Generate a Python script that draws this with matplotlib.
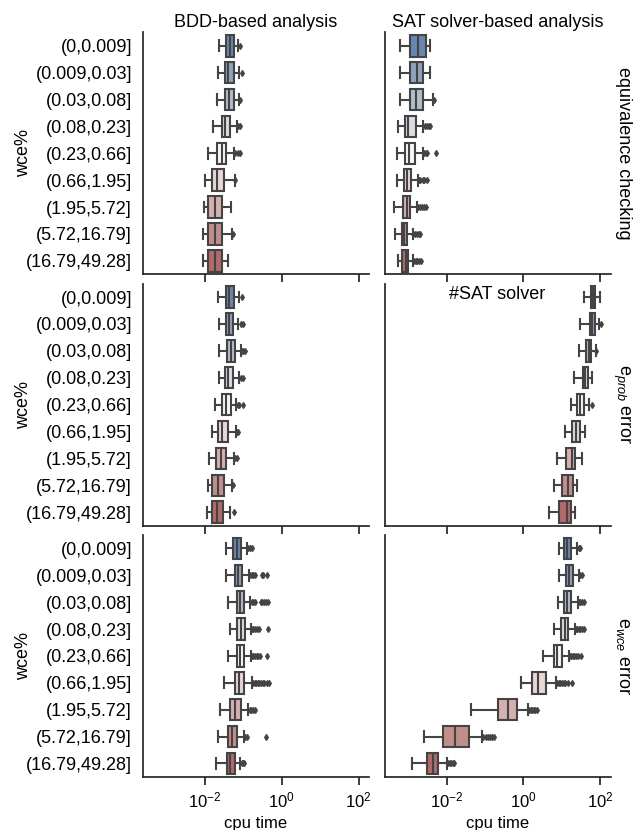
import numpy as np
import matplotlib
matplotlib.use("Agg")
import matplotlib.pyplot as plt
from matplotlib.ticker import NullLocator
import seaborn as sns

plt.rcParams['font.family'] = ['Liberation Sans', 'DejaVu Sans']
plt.rcParams['mathtext.fontset'] = 'custom'
plt.rcParams['mathtext.rm'] = 'Liberation Sans'
plt.rcParams['mathtext.it'] = 'Liberation Sans:italic'
plt.rcParams['font.size'] = 12

wce_bins = ["(0,0.009]", "(0.009,0.03]", "(0.03,0.08]", "(0.08,0.23]", "(0.23,0.66]",
            "(0.66,1.95]", "(1.95,5.72]", "(5.72,16.79]", "(16.79,49.28]"]
col_titles = ["BDD-based analysis", "SAT solver-based analysis"]
row_titles = ["equivalence checking", "e$_{prob}$ error", "e$_{wce}$ error"]

# box summaries as log10(cpu time): whislo, q1, median, q3, whishi
eq_bdd = [[-1.62, -1.44, -1.34, -1.24, -1.12], [-1.66, -1.48, -1.38, -1.24, -1.10],
          [-1.68, -1.46, -1.36, -1.24, -1.10], [-1.78, -1.54, -1.46, -1.34, -1.16],
          [-1.90, -1.68, -1.56, -1.44, -1.24], [-2.00, -1.82, -1.68, -1.50, -1.22],
          [-2.02, -1.90, -1.72, -1.56, -1.32], [-2.04, -1.90, -1.72, -1.56, -1.30],
          [-2.04, -1.90, -1.72, -1.56, -1.38]]
eq_bdd_fl = [[-1.08], [-1.04], [-1.08], [-1.12, -1.08], [-1.20, -1.14, -1.08],
             [-1.20], [], [-1.26], []]

eq_sat = [[-3.22, -2.94, -2.74, -2.54, -2.44], [-3.20, -2.94, -2.78, -2.60, -2.42],
          [-3.20, -2.96, -2.80, -2.60, -2.34], [-3.26, -3.08, -3.00, -2.80, -2.60],
          [-3.28, -3.08, -2.98, -2.82, -2.62], [-3.28, -3.10, -3.02, -2.92, -2.74],
          [-3.36, -3.14, -3.02, -2.94, -2.78], [-3.34, -3.16, -3.10, -3.02, -2.88],
          [-3.26, -3.16, -3.06, -3.00, -2.88]]
eq_sat_fl = [[], [], [-2.32], [-2.56, -2.52, -2.46, -2.44], [-2.58, -2.54, -2.52, -2.28],
             [-2.72, -2.68, -2.62, -2.58, -2.50], [-2.74, -2.68, -2.64, -2.58, -2.54],
             [-2.86, -2.82, -2.78, -2.72, -2.68], [-2.84, -2.80, -2.76, -2.72, -2.66]]

prob_bdd = [[-1.64, -1.44, -1.36, -1.24, -1.10], [-1.62, -1.44, -1.36, -1.26, -1.12],
            [-1.62, -1.42, -1.32, -1.22, -1.06], [-1.62, -1.48, -1.38, -1.26, -1.10],
            [-1.72, -1.54, -1.44, -1.32, -1.18], [-1.82, -1.64, -1.54, -1.38, -1.18],
            [-1.88, -1.70, -1.58, -1.44, -1.24], [-1.92, -1.80, -1.66, -1.50, -1.28],
            [-1.94, -1.80, -1.68, -1.52, -1.34]]
prob_bdd_fl = [[-1.04], [-1.06, -1.00], [-1.04, -1.00, -0.94], [-1.06, -1.00],
               [-1.14, -1.10, -1.00], [-1.16, -1.12], [-1.22, -1.16], [-1.26], [-1.24]]

prob_sat = [[1.58, 1.75, 1.81, 1.86, 1.98], [1.46, 1.72, 1.79, 1.85, 1.96],
            [1.43, 1.63, 1.69, 1.75, 1.88], [1.32, 1.55, 1.61, 1.67, 1.78],
            [1.23, 1.40, 1.47, 1.57, 1.71], [1.08, 1.27, 1.36, 1.48, 1.61],
            [0.86, 1.11, 1.25, 1.35, 1.51], [0.78, 0.99, 1.15, 1.28, 1.39],
            [0.67, 0.93, 1.13, 1.24, 1.34]]
prob_sat_fl = [[], [2.01], [1.89], [], [1.78], [], [], [], []]

wce_bdd = [[-1.45, -1.25, -1.16, -1.06, -0.90], [-1.45, -1.21, -1.12, -1.02, -0.85],
           [-1.39, -1.17, -1.08, -0.98, -0.81], [-1.33, -1.15, -1.06, -0.96, -0.80],
           [-1.40, -1.17, -1.08, -0.97, -0.80], [-1.50, -1.22, -1.10, -0.98, -0.77],
           [-1.60, -1.33, -1.20, -1.06, -0.87], [-1.66, -1.40, -1.28, -1.16, -0.98],
           [-1.70, -1.43, -1.34, -1.22, -1.07]]
wce_bdd_fl = [[-0.86, -0.82, -0.77],
              [-0.82, -0.77, -0.73, -0.69, -0.51, -0.47, -0.39],
              [-0.77, -0.73, -0.69, -0.54, -0.50, -0.45, -0.41, -0.36],
              [-0.77, -0.73, -0.69, -0.64, -0.59, -0.35],
              [-0.77, -0.73, -0.69, -0.64, -0.60, -0.56, -0.39],
              [-0.75, -0.70, -0.66, -0.62, -0.58, -0.53, -0.49, -0.45, -0.39, -0.33],
              [-0.83, -0.79, -0.75, -0.70],
              [-0.95, -0.90, -0.41],
              [-1.03, -1.01, -0.97]]

wce_sat = [[0.91, 1.06, 1.13, 1.23, 1.40], [0.93, 1.10, 1.18, 1.28, 1.45],
           [0.89, 1.05, 1.14, 1.24, 1.42], [0.79, 0.98, 1.07, 1.16, 1.34],
           [0.51, 0.79, 0.88, 0.99, 1.17], [-0.07, 0.22, 0.38, 0.59, 0.84],
           [-1.37, -0.66, -0.41, -0.18, 0.13], [-2.59, -2.09, -1.77, -1.41, -1.07],
           [-2.91, -2.51, -2.34, -2.22, -1.99]]
wce_sat_fl = [[1.43, 1.48], [1.48, 1.52], [1.45, 1.48, 1.52, 1.56],
              [1.36, 1.40, 1.43, 1.48, 1.52, 1.56],
              [1.20, 1.24, 1.28, 1.32, 1.36, 1.42, 1.50],
              [0.87, 0.91, 0.95, 1.00, 1.04, 1.08, 1.15, 1.26],
              [0.15, 0.19, 0.22, 0.27, 0.30, 0.35],
              [-1.04, -0.98, -0.93, -0.88, -0.83, -0.77],
              [-1.96, -1.92, -1.89, -1.84, -1.80]]

panels = [[(eq_bdd, eq_bdd_fl), (eq_sat, eq_sat_fl)],
          [(prob_bdd, prob_bdd_fl), (prob_sat, prob_sat_fl)],
          [(wce_bdd, wce_bdd_fl), (wce_sat, wce_sat_fl)]]

pal = [sns.desaturate(c, 0.75) for c in sns.color_palette("vlag", len(wce_bins))]
edge = "#444444"


def make_stats(summ, fl):
    out = []
    for s, f in zip(summ, fl):
        v = 10 ** np.array(s)
        out.append(dict(whislo=v[0], q1=v[1], med=v[2], q3=v[3], whishi=v[4],
                        fliers=10 ** np.array(f, dtype=float)))
    return out


fig, axes = plt.subplots(3, 2, figsize=(6.33, 8.3), dpi=100, sharex=True, sharey=True)
fig.subplots_adjust(left=0.226, right=0.965, top=0.961, bottom=0.064,
                    wspace=0.071, hspace=0.039)

for i in range(3):
    for j in range(2):
        ax = axes[i, j]
        summ, fl = panels[i][j]
        res = ax.bxp(make_stats(summ, fl), positions=range(len(wce_bins)), widths=0.8,
                     orientation='horizontal', patch_artist=True, capwidths=0.4,
                     manage_ticks=False,
                     boxprops=dict(edgecolor=edge, linewidth=1.5),
                     medianprops=dict(color=edge, linewidth=1.5),
                     whiskerprops=dict(color=edge, linewidth=1.5),
                     capprops=dict(color=edge, linewidth=1.5),
                     flierprops=dict(marker='d', markersize=3, markerfacecolor=edge,
                                     markeredgecolor=edge, linestyle='none'))
        for box, c in zip(res['boxes'], pal):
            box.set_facecolor(c)
        ax.set_xscale('log')
        ax.spines['top'].set_visible(False)
        ax.spines['right'].set_visible(False)
        for sp in ax.spines.values():
            sp.set_linewidth(1.25)
            sp.set_color('#262626')
        ax.tick_params(axis='x', direction='out', length=6, width=1.25, color='#262626',
                       labelsize=12)
        ax.tick_params(axis='y', length=0, pad=8, labelsize=13)
    axes[i, 0].set_ylabel("wce%", fontsize=13)
    axes[i, 0].yaxis.set_label_coords(-0.49, 0.5)
    axes[i, 1].text(1.037, 0.5, row_titles[i], rotation=270, rotation_mode='anchor',
                    ha='center', va='baseline', transform=axes[i, 1].transAxes,
                    fontsize=13)

axes[0, 0].set_yticks(range(len(wce_bins)))
axes[0, 0].set_yticklabels(wce_bins)
axes[0, 0].set_ylim(len(wce_bins) - 0.5, -0.5)
axes[0, 0].set_xlim(10 ** -3.6, 10 ** 2.27)
axes[0, 0].set_xticks([1e-2, 1e0, 1e2])
for ax in axes.flat:
    ax.xaxis.set_minor_locator(NullLocator())
for ax in axes[2]:
    ax.set_xlabel("cpu time")
for j in range(2):
    axes[0, j].set_title(col_titles[j], fontsize=13, pad=3.6)

axes[1, 1].text(0.495, 0.955, "#SAT solver", ha='center', va='center',
                transform=axes[1, 1].transAxes, fontsize=13)

fig.savefig("out.png", dpi=100)
